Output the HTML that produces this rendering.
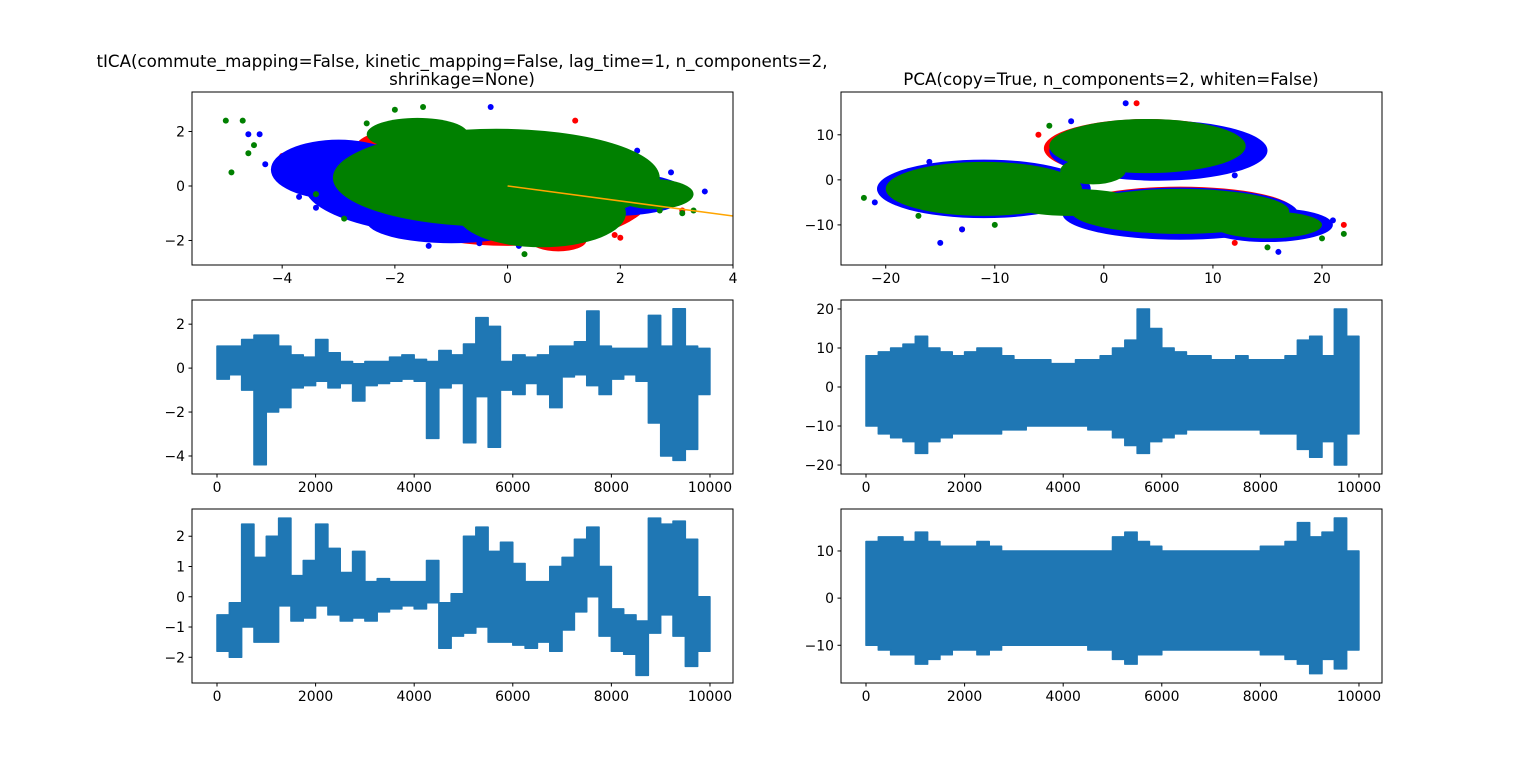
<!DOCTYPE html>
<html><head><meta charset="utf-8"><style>
body{margin:0;background:#fff}
svg{display:block}
text{font-family:"DejaVu Sans","Liberation Sans",sans-serif;fill:#000}
</style></head><body>
<svg id="fig" width="1536" height="767" xmlns="http://www.w3.org/2000/svg">
<text x="462" y="67" font-size="16.7" text-anchor="middle">tICA(commute_mapping=False, kinetic_mapping=False, lag_time=1, n_components=2,</text>
<text x="462" y="85" font-size="16.7" text-anchor="middle">shrinkage=None)</text>
<text x="1111" y="85" font-size="16.7" text-anchor="middle">PCA(copy=True, n_components=2, whiten=False)</text>
</svg>
<script>
// ---- time series data (per 250-frame bin: max / min) ----
const binFrames = [0,250,500,750,1000,1250,1500,1750,2000,2250,2500,2750,3000,3250,3500,3750,4000,4250,4500,4750,5000,5250,5500,5750,6000,6250,6500,6750,7000,7250,7500,7750,8000,8250,8500,8750,9000,9250,9500,9750];
const tic1Hi = [1.0,1.0,1.3,1.5,1.5,1.0,0.6,0.5,1.3,0.7,0.3,0.2,0.3,0.3,0.5,0.6,0.4,0.3,0.8,0.6,1.1,2.3,1.9,0.3,0.6,0.5,0.6,1.0,1.0,1.2,2.6,1.0,0.9,0.9,0.9,2.4,1.0,2.7,1.0,0.9];
const tic1Lo = [-0.5,-0.3,-1.0,-4.4,-2.0,-1.8,-0.9,-0.8,-0.6,-0.9,-0.7,-1.5,-0.8,-0.7,-0.6,-0.5,-0.6,-3.2,-0.9,-0.7,-3.4,-1.3,-3.6,-1.0,-1.2,-0.7,-1.2,-1.8,-0.4,-0.3,-0.8,-1.2,-0.5,-0.3,-0.6,-2.5,-4.0,-4.2,-3.7,-1.2];
const tic2Hi = [-0.6,-0.2,2.4,1.3,2.0,2.6,0.7,1.2,2.4,1.6,0.8,1.5,0.5,0.6,0.5,0.5,0.5,1.2,-0.2,0.1,2.0,2.3,1.5,1.8,1.1,0.5,0.5,1.0,1.3,1.9,2.3,1.0,-0.4,-0.6,-0.8,2.6,2.4,2.5,1.9,0.0];
const tic2Lo = [-1.8,-2.0,-1.0,-1.5,-1.5,-0.3,-0.8,-0.7,-0.3,-0.6,-0.8,-0.7,-0.8,-0.5,-0.4,-0.3,-0.4,-0.2,-1.7,-1.3,-1.2,-1.0,-1.5,-1.5,-1.6,-1.7,-1.5,-1.8,-1.1,-0.5,0.0,-1.3,-1.8,-1.9,-2.6,-1.2,-0.6,-1.3,-2.3,-1.8];
const pc1Hi = [8,9,10,11,13,10,9,8,9,10,10,8,7,7,7,6,6,7,7,8,10,12,20,15,10,9,8,8,7,7,8,7,7,7,8,12,13,8,20,13];
const pc1Lo = [-10,-12,-13,-14,-17,-14,-13,-12,-12,-12,-12,-11,-11,-10,-10,-10,-10,-10,-11,-11,-13,-15,-17,-14,-13,-12,-11,-11,-11,-11,-11,-11,-12,-12,-12,-16,-18,-14,-20,-12];
const pc2Hi = [12,13,13,12,14,12,11,11,11,12,11,10,10,10,10,10,10,10,10,10,13,14,12,11,10,10,10,10,10,10,10,10,11,11,12,16,13,14,17,10];
const pc2Lo = [-10,-11,-12,-12,-14,-13,-12,-11,-11,-12,-11,-10,-10,-10,-10,-10,-10,-10,-11,-11,-13,-14,-12,-12,-11,-11,-11,-11,-11,-11,-11,-11,-12,-12,-13,-14,-16,-13,-15,-11];
// ---- scatter blobs: [cx, cy, rx, ry] in data units ----
const ticRedBlobs = [[0,-0.2,2.6,2.0],[0.9,-2.0,0.5,0.4],[-1.8,1.4,0.9,0.7]];
const ticBlueBlobs = [[-0.5,0,3.1,1.9],[-3.0,0.6,1.2,1.1],[1.9,-0.3,1.3,0.8],[-1.0,-1.3,1.5,0.8]];
const ticGreenBlobs = [[-0.2,0.3,2.9,1.8],[0.6,-1.0,1.5,1.25],[2.6,-0.3,0.7,0.55],[-1.6,1.9,0.9,0.6]];
const ticRedPts = [[-3.8,0.9],[-2.8,-0.6],[1.2,2.4],[3.1,-0.9],[1.9,-1.8],[2.0,-1.9],[-1.0,1.7],[-4.0,1.1]];
const ticBluePts = [[-4.6,1.9],[-4.4,1.9],[-4.3,0.8],[-4.0,0.2],[-3.7,-0.4],[-3.4,-0.8],[-2.6,-1.1],[-1.8,-1.7],[-1.4,-2.2],[-0.5,-2.1],[0.2,-2.2],[3.2,-0.2],[3.5,-0.2],[3.0,-0.6],[-0.3,2.9],[2.3,1.3],[2.9,0.5],[-2.0,-1.3]];
const ticGreenPts = [[-5.0,2.4],[-4.7,2.4],[-4.9,0.5],[-4.6,1.2],[-4.5,1.5],[2.8,-0.6],[3.0,-0.4],[2.7,-0.9],[3.3,-0.9],[3.1,-1.0],[-2.0,2.8],[-1.5,2.9],[-2.5,2.3],[0.3,-2.5],[-3.4,-0.3],[-2.9,-1.2]];
const pcaRedBlobs = [[4,7,9.5,6.5],[-11,-2,9.5,6.2],[7,-7,10.5,5.5],[15,-10,5.5,3.5]];
const pcaBlueBlobs = [[5,6.5,10,6.7],[-11,-2,9.8,6.5],[7,-7.5,10.8,5.8],[15,-10,6,3.8],[10,7,3,3]];
const pcaGreenBlobs = [[4,7.5,9,6],[-11,-2,9,6],[7,-7,10,5],[-3,-5,6,3],[15,-10,5,3],[-1,2,3,3]];
const pcaRedPts = [[-13,-11],[-19,-5],[3,17],[13,-6],[12,-14],[22,-10],[-6,10],[8,12]];
const pcaBluePts = [[-15,-14],[-21,-5],[-13,-11],[-3,13],[10,6],[12,1],[19,-10],[21,-9],[16,-16],[2,17],[-20,-3],[-16,4],[14,-13],[6,-12]];
const pcaGreenPts = [[-22,-4],[-17,-8],[18,-11],[22,-12],[20,-13],[-5,12],[9,9],[15,-15],[-19,-2],[-10,-10]];
const lineX = [0,4];
const lineY = [0,-1.1];
// ---- tick labels ----
const ticXTicks = [-4,-2,0,2,4], ticYTicks = [-2,0,2];
const pcaXTicks = [-20,-10,0,10,20], pcaYTicks = [-10,0,10];
const timeXTicks = [0,2000,4000,6000,8000,10000];
const tic1YTicks = [-4,-2,0,2], pc1YTicks = [-20,-10,0,10,20];
const tic2YTicks = [-2,-1,0,1,2], pc2YTicks = [-10,0,10];

const NS='http://www.w3.org/2000/svg';
const svg=document.getElementById('fig');
function el(tag,attrs,parent){const e=document.createElementNS(NS,tag);for(const k in attrs)e.setAttribute(k,attrs[k]);(parent||svg).appendChild(e);return e;}
function fmt(v){return v<0?'\u2212'+Math.abs(v):String(v);}
function axes(name,L,T,W,H,xd,yd,xt,yt){
  const g=el('g',{});
  
  
  const sx=v=>L+(v-xd[0])/(xd[1]-xd[0])*W;
  const sy=v=>T+H-(v-yd[0])/(yd[1]-yd[0])*H;
  const clipId='c'+name;
  const cp=el('clipPath',{id:clipId},g);el('rect',{x:L,y:T,width:W,height:H},cp);
  const plot=el('g',{'clip-path':'url(#'+clipId+')'},g);
  
  
  const frame=()=>{
    const f=el('rect',{x:L,y:T,width:W,height:H,fill:'none',stroke:'#000','stroke-width':1},g);
    
    
    xt.forEach(v=>{const x=sx(v);el('line',{x1:x,x2:x,y1:T+H,y2:T+H+3.5,stroke:'#000'},g);
      const t=el('text',{x:x,y:T+H+18,'font-size':13.9,'text-anchor':'middle'},g);t.textContent=fmt(v);
      
      });
    yt.forEach(v=>{const y=sy(v);el('line',{x1:L-3.5,x2:L,y1:y,y2:y,stroke:'#000'},g);
      const t=el('text',{x:L-7,y:y+5,'font-size':13.9,'text-anchor':'end'},g);t.textContent=fmt(v);
      
      });
  };
  return {sx,sy,plot,frame};
}
function blobs(a,list,color,nm){
  list.forEach(b=>{const e=el('ellipse',{cx:a.sx(b[0]),cy:a.sy(b[1]),rx:Math.abs(a.sx(b[0]+b[2])-a.sx(b[0])),ry:Math.abs(a.sy(b[1]+b[3])-a.sy(b[1])),fill:color},a.plot);
    
    });
}
function pts(a,list,color,nm){
  list.forEach(p=>{const e=el('circle',{cx:a.sx(p[0]),cy:a.sy(p[1]),r:3,fill:color},a.plot);
    
    });
}
function band(a,hi,lo,nm){
  const N=binFrames.length, step=binFrames[1]-binFrames[0];
  const xs=i=>a.sx(binFrames[i]), xe=i=>a.sx(Math.min(binFrames[i]+step,9999));
  let d='';
  for(let i=0;i<N;i++){d+=(i?'L':'M')+xs(i)+','+a.sy(hi[i])+'L'+xe(i)+','+a.sy(hi[i]);}
  for(let i=N-1;i>=0;i--){d+='L'+xe(i)+','+a.sy(lo[i])+'L'+xs(i)+','+a.sy(lo[i]);}
  const p=el('path',{d:d+'Z',fill:'#1f77b4',stroke:'#1f77b4','stroke-width':1.5,'stroke-linejoin':'round'},a.plot);
  
  
}
// scatter tICA
let a=axes('tica-scatter',192,92,541,173,[-5.6,4],[-2.9,3.45],ticXTicks,ticYTicks);
blobs(a,ticRedBlobs,'#ff0000','red-points');pts(a,ticRedPts,'#ff0000','red-point');
blobs(a,ticBlueBlobs,'#0000ff','blue-points');pts(a,ticBluePts,'#0000ff','blue-point');
blobs(a,ticGreenBlobs,'#008000','green-points');pts(a,ticGreenPts,'#008000','green-point');
const ln=el('line',{x1:a.sx(lineX[0]),y1:a.sy(lineY[0]),x2:a.sx(lineX[1]),y2:a.sy(lineY[1]),stroke:'#ffa500','stroke-width':1.5},a.plot);


a.frame();
// scatter PCA
a=axes('pca-scatter',841,92,541,173,[-24.1,25.5],[-18.9,19.5],pcaXTicks,pcaYTicks);
blobs(a,pcaRedBlobs,'#ff0000','red-points');pts(a,pcaRedPts,'#ff0000','red-point');
blobs(a,pcaBlueBlobs,'#0000ff','blue-points');pts(a,pcaBluePts,'#0000ff','blue-point');
blobs(a,pcaGreenBlobs,'#008000','green-points');pts(a,pcaGreenPts,'#008000','green-point');
a.frame();
// time series
a=axes('tic1-series',192,300,541,174,[-507,10467],[-4.82,3.1],timeXTicks,tic1YTicks);band(a,tic1Hi,tic1Lo,'tic1-line');a.frame();
a=axes('pc1-series',841,300,541,174,[-507,10467],[-22.3,22.3],timeXTicks,pc1YTicks);band(a,pc1Hi,pc1Lo,'pc1-line');a.frame();
a=axes('tic2-series',192,509,541,174,[-507,10467],[-2.85,2.9],timeXTicks,tic2YTicks);band(a,tic2Hi,tic2Lo,'tic2-line');a.frame();
a=axes('pc2-series',841,509,541,174,[-507,10467],[-18,18.9],timeXTicks,pc2YTicks);band(a,pc2Hi,pc2Lo,'pc2-line');a.frame();
</script>
</body></html>
